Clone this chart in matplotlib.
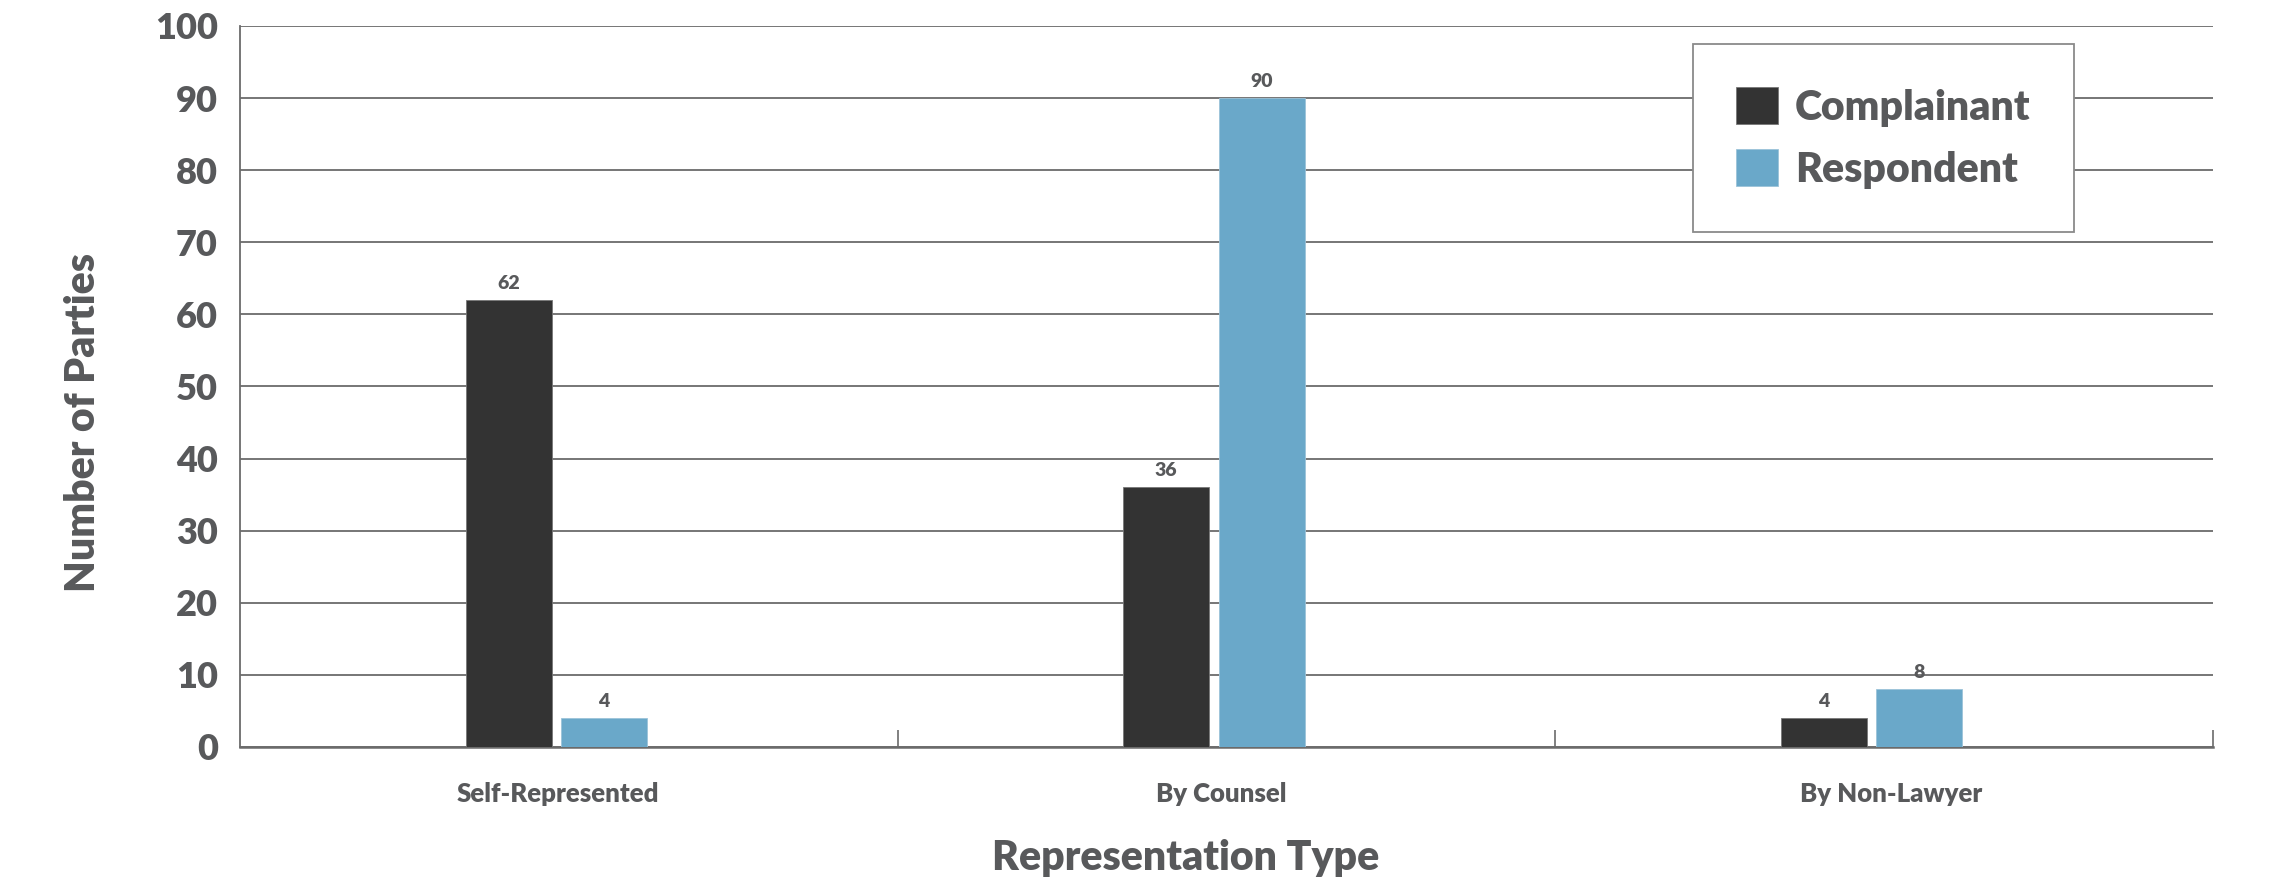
import matplotlib
matplotlib.use("Agg")
import matplotlib.pyplot as plt
import matplotlib.transforms as mtransforms
import numpy as np

categories = ["Self-Represented", "By Counsel", "By Non-Lawyer"]
complainant = [62, 36, 4]
respondent = [4, 90, 8]
series_names = ["Complainant", "Respondent"]
yticks = list(range(0, 101, 10))

TXT = "#58595b"
GRID = "#6b6b6b"
C1 = "#333333"
C2 = "#6aa8c9"
W = "heavy"

plt.rcParams['font.family'] = ['Lato', 'DejaVu Sans']

fig = plt.figure(figsize=(22.92, 8.92), dpi=100)
ax = fig.add_axes([0.1047, 0.1626, 0.8608, 0.8083])

x = np.arange(len(categories))
w = 0.131
b1 = ax.bar(x - 0.0915, complainant, width=w, color=C1, edgecolor="#777777", linewidth=0.6, label=series_names[0], zorder=3)
b2 = ax.bar(x + 0.0535, respondent, width=w, color=C2, edgecolor="#9cc3d9", linewidth=0.6, label=series_names[1], zorder=3)

for bars, vals in ((b1, complainant), (b2, respondent)):
    for r, v in zip(bars, vals):
        ax.annotate(str(v), (r.get_x() + r.get_width() / 2, v), xytext=(0, 6),
                    textcoords="offset points", ha="center", va="bottom",
                    fontsize=14, fontweight=W, color=TXT)

ax.set_xlim(-0.5, 2.5)
ax.set_ylim(0, 100)
ax.set_yticks(yticks)
ax.set_yticklabels([str(t) for t in yticks], fontsize=26, fontweight=W, color=TXT)
ax.tick_params(axis="y", length=0, pad=16)
ax.set_xticks(x)
ax.set_xticklabels(categories, fontsize=18.5, fontweight=W, color=TXT)
ax.tick_params(axis="x", which="major", length=0, pad=25)
ax.set_xticks([0.5, 1.5, 2.5], minor=True)
ax.tick_params(axis="x", which="minor", direction="in", length=12, width=1.2, color=GRID)

# small horizontal nudges of the category labels (in points)
for lbl, dx in zip(ax.get_xticklabels(), (-8, -4, 5)):
    lbl.set_transform(lbl.get_transform() + mtransforms.ScaledTranslation(dx / 72, 0, fig.dpi_scale_trans))

ax.yaxis.grid(True, color=GRID, linewidth=1.3, zorder=0)
ax.set_axisbelow(True)
for s in ("top", "right"):
    ax.spines[s].set_visible(False)
ax.spines["left"].set_color(GRID)
ax.spines["left"].set_linewidth(1.3)
ax.spines["bottom"].set_color(GRID)
ax.spines["bottom"].set_linewidth(1.8)

leg = ax.legend(loc="upper left", bbox_to_anchor=(0.7364, 0.975), borderaxespad=0,
                prop={"weight": W, "size": 29.5}, handlelength=1.02, handleheight=1.02,
                borderpad=1.05, labelspacing=0.55, handletextpad=0.42, fancybox=False,
                framealpha=1, edgecolor="#8a8a8a")
leg.get_frame().set_linewidth(1.3)
for t in leg.get_texts():
    t.set_color(TXT)

fig.text(83 / 2292, 1 - 422 / 892, "Number of Parties", rotation=90, ha="center", va="center",
         fontsize=29.5, fontweight=W, color=TXT)
fig.text(1186 / 2292, 1 - 858 / 892, "Representation Type", ha="center", va="center",
         fontsize=29.5, fontweight=W, color=TXT)

fig.savefig("out.png", dpi=100)
